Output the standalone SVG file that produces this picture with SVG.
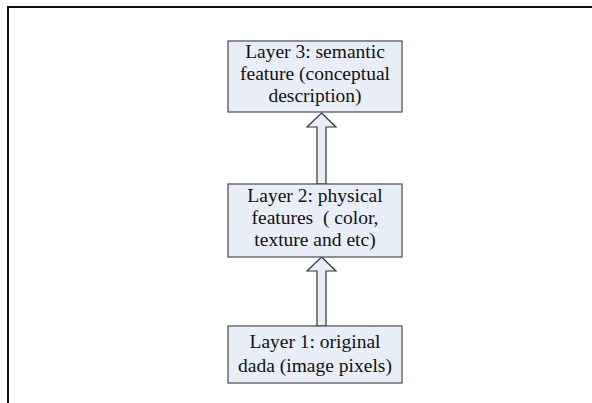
<svg xmlns="http://www.w3.org/2000/svg" width="592" height="403" viewBox="0 0 592 403">
<style>
.box{fill:#E8EEF8;stroke:#4a4a4a;stroke-width:1.2}
.t{font-family:"Liberation Serif","Times New Roman",serif;font-size:19.5px;fill:#111;text-anchor:middle;white-space:pre}
.arr{fill:#E8EEF8;stroke:#333;stroke-width:1.2;stroke-linejoin:miter}
</style>
<rect x="0" y="0" width="592" height="403" fill="#fff"/>
<path d="M8 403 V7 H592" fill="none" stroke="#111" stroke-width="2"/>
<g id="connectors">
<path class="arr" d="M321.5 113 L336 127 L326 127 L326 184 L317 184 L317 127 L307 127 Z"/>
<path class="arr" d="M321.5 257 L336 271 L326 271 L326 326 L317 326 L317 271 L307 271 Z"/>
</g>
<g id="layer3">
<rect class="box" x="228" y="41" width="174" height="71"/>
<text class="t" x="315" y="58">Layer 3: semantic</text>
<text class="t" x="315" y="80">feature (conceptual</text>
<text class="t" x="315" y="102">description)</text>
</g>
<g id="layer2">
<rect class="box" x="228" y="184" width="174" height="73"/>
<text class="t" x="315" y="202">Layer 2: physical</text>
<text class="t" x="315" y="224" xml:space="preserve">features  ( color,</text>
<text class="t" x="315" y="246">texture and etc)</text>
</g>
<g id="layer1">
<rect class="box" x="228" y="326" width="174" height="57"/>
<text class="t" x="315" y="348">Layer 1: original</text>
<text class="t" x="315" y="372">dada (image pixels)</text>
</g>
</svg>
